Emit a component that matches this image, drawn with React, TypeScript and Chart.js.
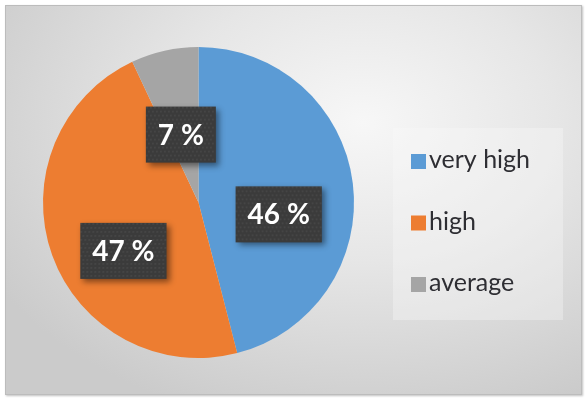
import React, { useEffect, useRef } from "react";
import { Chart, registerables } from "chart.js";

Chart.register(...registerables);

const categories = ["very high", "high", "average"];
const shares = [46, 47, 7];
const sliceColors = ["#5B9BD5", "#ED7D31", "#A5A5A5"];
const valueLabels = shares.map((v) => `${v} %`);

const labelNudges = [
  { dx: 0, dy: 22 },
  { dx: 1, dy: 21 },
  { dx: 0, dy: 11 },
];

const pctLabelPlugin = {
  id: "pctLabels",
  afterDatasetsDraw(chart: any) {
    const ctx = chart.ctx;
    const meta = chart.getDatasetMeta(0);
    ctx.save();
    ctx.font = "bold 28px Lato";
    ctx.textAlign = "center";
    ctx.textBaseline = "middle";
    meta.data.forEach((arc: any, i: number) => {
      const { x, y, startAngle, endAngle, outerRadius } = arc.getProps(
        ["x", "y", "startAngle", "endAngle", "outerRadius"],
        true
      );
      const mid = (startAngle + endAngle) / 2;
      const r = outerRadius * 0.52;
      const cx = x + Math.cos(mid) * r + labelNudges[i].dx;
      const cy = y + Math.sin(mid) * r + labelNudges[i].dy;
      const text = valueLabels[i];
      const tw = ctx.measureText(text).width;
      const w = tw + 24;
      const h = 56;
      ctx.save();
      ctx.shadowColor = "rgba(0,0,0,0.45)";
      ctx.shadowBlur = 6;
      ctx.shadowOffsetX = 3;
      ctx.shadowOffsetY = 3;
      ctx.fillStyle = "#3b3b3b";
      ctx.fillRect(cx - w / 2, cy - h / 2, w, h);
      ctx.restore();
      ctx.fillStyle = "rgba(255,255,255,0.05)";
      for (let yy = cy - h / 2; yy < cy + h / 2 - 2; yy += 4) {
        for (let xx = cx - w / 2 + (((yy - (cy - h / 2)) / 4) % 2 ? 2 : 0); xx < cx + w / 2 - 2; xx += 4) {
          ctx.fillRect(xx, yy, 2, 2);
        }
      }
      ctx.fillStyle = "#ffffff";
      ctx.fillText(text, cx, cy + 1);
    });
    ctx.restore();
  },
};

const legendPlugin = {
  id: "sideLegend",
  afterDraw(chart: any) {
    const ctx = chart.ctx;
    ctx.save();
    ctx.fillStyle = "rgba(248,248,248,0.35)";
    ctx.fillRect(393, 128, 170, 192);
    ctx.font = "25px Lato";
    ctx.textAlign = "left";
    ctx.textBaseline = "middle";
    const colors = chart.data.datasets[0].backgroundColor;
    chart.data.labels.forEach((lab: string, i: number) => {
      const yc = 161 + i * 61.5;
      ctx.fillStyle = colors[i];
      ctx.fillRect(411, yc - 7, 15, 15);
      ctx.fillStyle = "#2e2e33";
      ctx.fillText(lab, 429, yc - 1);
    });
    ctx.restore();
  },
};

export default function App() {
  const ref = useRef<HTMLCanvasElement | null>(null);
  useEffect(() => {
    document.body.style.margin = "0";
    const chart = new Chart(ref.current as HTMLCanvasElement, {
      type: "pie",
      data: {
        labels: categories,
        datasets: [
          {
            data: shares,
            backgroundColor: sliceColors,
            borderWidth: 0,
          },
        ],
      },
      options: {
        animation: false,
        responsive: false,
        layout: { padding: { left: 43, top: 47, right: 233, bottom: 42 } },
        plugins: {
          legend: { display: false },
          tooltip: { enabled: false },
        },
      },
      plugins: [pctLabelPlugin, legendPlugin],
    });
    return () => chart.destroy();
  }, []);
  return (
    <div
      style={{
        position: "relative",
        width: 587,
        height: 400,
        background: "#ffffff",
      }}
    >
      <div
        style={{
          position: "absolute",
          left: 5,
          top: 5,
          width: 575,
          height: 388,
          border: "1px solid #bcbcbc",
          boxShadow: "1px 1px 2px rgba(0,0,0,0.25)",
          background:
            "radial-gradient(ellipse 75% 80% at 62% 30%, #f7f7f7 0%, #e6e6e6 45%, #cbcbcb 100%)",
        }}
      />
      <canvas
        ref={ref}
        width={587}
        height={400}
        style={{ position: "absolute", left: 0, top: 0 }}
      />
    </div>
  );
}
